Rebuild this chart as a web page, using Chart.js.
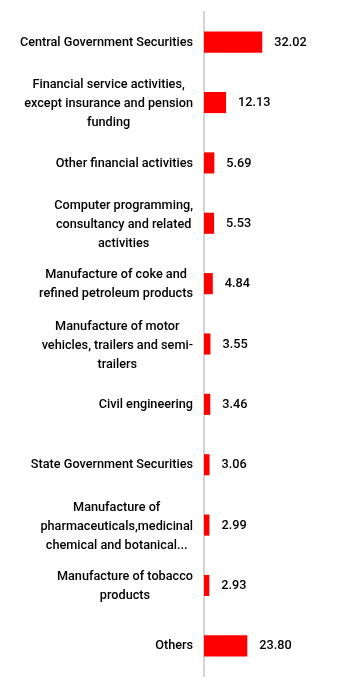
<!DOCTYPE html>
<html>
<head>
<meta charset="utf-8">
<title>Top sector holdings</title>
<script src="https://cdn.jsdelivr.net/npm/chart.js@4.4.1/dist/chart.umd.min.js"></script>
<style>
  html, body { margin: 0; padding: 0; background: #fff; }
  #wrap { position: relative; width: 345px; height: 691px; }
</style>
</head>
<body>
<div id="wrap"><canvas id="sectorChart"></canvas></div>
<script>
// sector names, already broken into display lines
const sectorLabels = [
  ['Central Government Securities'],
  ['Financial service activities,', 'except insurance and pension', 'funding'],
  ['Other financial activities'],
  ['Computer programming,', 'consultancy and related', 'activities'],
  ['Manufacture of coke and', 'refined petroleum products'],
  ['Manufacture of motor', 'vehicles, trailers and semi-', 'trailers'],
  ['Civil engineering'],
  ['State Government Securities'],
  ['Manufacture of', 'pharmaceuticals,medicinal', 'chemical and botanical...'],
  ['Manufacture of tobacco', 'products'],
  ['Others']
];

// % of holdings per sector
const holdingPct = [32.02, 12.13, 5.69, 5.53, 4.84, 3.55, 3.46, 3.06, 2.99, 2.93, 23.80];

const X_MAX = 72;
const LABEL_FONT = '500 12.7px Roboto';
const LINE_H = 19;

// draws the category names (right-aligned block, centred lines) and the value after each bar
const sectorLabelPlugin = {
  id: 'sectorLabels',
  afterDatasetsDraw(chart) {
    const ctx = chart.ctx;
    const yScale = chart.scales.y;
    const meta = chart.getDatasetMeta(0);
    ctx.save();
    ctx.font = LABEL_FONT;
    ctx.fillStyle = '#000';
    ctx.textBaseline = 'middle';

    ctx.textAlign = 'center';
    sectorLabels.forEach((lines, i) => {
      const yc = yScale.getPixelForValue(i) + (lines.length > 2 ? 1.5 : 0.5);
      const blockW = Math.max(...lines.map(l => ctx.measureText(l).width));
      const cx = yScale.right - 11 - blockW / 2;
      lines.forEach((line, j) => {
        ctx.fillText(line, cx, yc + (j - (lines.length - 1) / 2) * LINE_H);
      });
    });

    ctx.textAlign = 'left';
    meta.data.forEach((bar, i) => {
      ctx.fillText(holdingPct[i].toFixed(2), bar.x + 12, bar.y + 0.5);
    });
    ctx.restore();
  }
};

const chart = new Chart(document.getElementById('sectorChart'), {
  type: 'bar',
  data: {
    labels: sectorLabels,
    datasets: [{
      data: holdingPct,
      backgroundColor: '#ff0000',
      borderWidth: 0,
      barPercentage: 0.35,
      categoryPercentage: 1
    }]
  },
  options: {
    indexAxis: 'y',
    responsive: true,
    maintainAspectRatio: false,
    animation: false,
    layout: { padding: { top: 12, bottom: 15, right: 10, left: 0 } },
    plugins: {
      legend: { display: false },
      tooltip: { enabled: false }
    },
    scales: {
      x: {
        display: false,
        min: 0,
        max: X_MAX
      },
      y: {
        grid: { display: false, drawTicks: false },
        border: { display: true, color: '#d4d4d4', width: 2 },
        ticks: { display: false },
        afterFit(scale) { scale.width = 204; }
      }
    }
  },
  plugins: [sectorLabelPlugin]
});
</script>
</body>
</html>
